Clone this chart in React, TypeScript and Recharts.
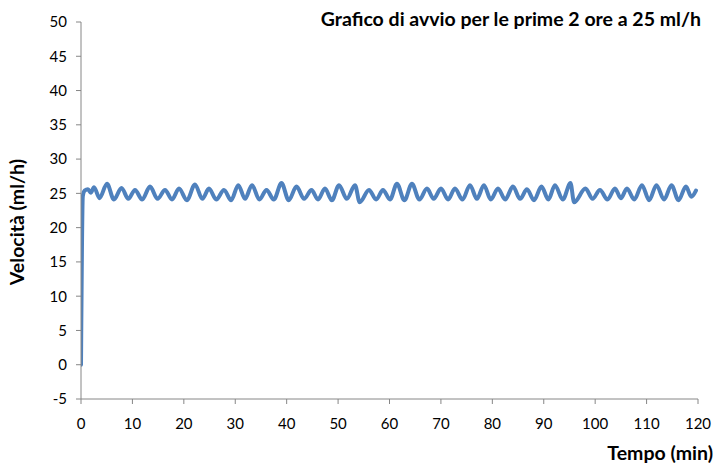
import React from "react";
import { LineChart, Line, XAxis, YAxis, Label } from "recharts";

const chartTitle = "Grafico di avvio per le prime 2 ore a 25 ml/h";
const xAxisTitle = "Tempo (min)";
const yAxisTitle = "Velocità (ml/h)";

const xTicks = [0, 10, 20, 30, 40, 50, 60, 70, 80, 90, 100, 110, 120];
const yTicks = [-5, 0, 5, 10, 15, 20, 25, 30, 35, 40, 45, 50];

const timeMin = [
  0, 0.35, 0.7, 1.36, 1.9, 2.53, 3.6, 5.06, 6.4, 7.88, 9.2, 10.5, 11.9, 13.42, 14.9,
  16.34, 17.7, 19.06, 20.6, 22.17, 23.6, 24.89, 26.3, 27.81, 29.2, 30.59, 31.9,
  33.26, 34.7, 36.08, 37.5, 38.99, 40.4, 41.91, 43.4, 44.83, 46.1, 47.45, 48.8,
  50.18, 51.7, 53.29, 54.2, 56.01, 57.4, 58.73, 60.1, 61.45, 62.9, 64.37, 65.8,
  67.29, 68.6, 70.01, 71.4, 72.73, 74.2, 75.65, 77.0, 78.37, 79.7, 81.1, 82.5,
  84.01, 85.4, 86.74, 88.1, 89.56, 90.9, 92.18, 93.7, 95.2, 95.9, 98.11, 99.5,
  100.93, 102.4, 103.85, 105.0, 106.18, 107.6, 109.1, 110.5, 111.92, 113.4,
  114.84, 116.2, 117.66, 118.7, 119.6,
];

const velocity = [
  0, 24.6, 25.4, 25.6, 25.1, 25.9, 24.3, 26.4, 24.1, 25.8, 24.2, 25.5, 24.1, 26.0, 24.2,
  25.5, 24.1, 25.7, 24.0, 26.3, 24.2, 25.7, 24.1, 25.5, 24.0, 26.2, 24.2,
  26.2, 24.1, 25.5, 24.1, 26.5, 24.0, 26.0, 24.2, 25.5, 24.1, 25.7, 24.0,
  26.2, 24.2, 26.2, 23.7, 25.5, 24.1, 25.5, 24.1, 26.4, 24.0, 26.4, 24.1,
  25.7, 24.2, 25.7, 24.1, 25.7, 24.1, 26.2, 24.2, 26.2, 24.1, 25.7, 24.1,
  26.0, 24.2, 25.6, 24.0, 26.0, 24.1, 26.2, 24.1, 26.5, 23.7, 25.7, 24.2,
  25.5, 24.1, 25.7, 24.3, 25.7, 24.1, 26.2, 24.0, 26.2, 24.1,
  26.2, 24.0, 26.0, 24.5, 25.4,
];

const data = timeMin.map((t, i) => ({ t, v: velocity[i] }));

const FONT = "Lato, 'Open Sans', sans-serif";
const AXIS_COLOR = "#868686";

export default function App() {
  return (
    <div style={{ position: "absolute", left: 0, top: 0, width: 717, height: 465, background: "#fff" }}>
      <div
        style={{
          position: "absolute",
          right: 16,
          top: 7,
          fontFamily: FONT,
          fontWeight: 700,
          fontSize: 19.5,
          color: "#000",
          whiteSpace: "nowrap",
          lineHeight: "24px",
        }}
      >
        {chartTitle}
      </div>
      <LineChart
        width={717}
        height={465}
        data={data}
        margin={{ top: 22, right: 19, bottom: 0, left: 0 }}
      >
        <XAxis
          dataKey="t"
          type="number"
          domain={[0, 120]}
          ticks={xTicks}
          allowDataOverflow
          height={66}
          tickSize={5}
          tickMargin={14}
          stroke={AXIS_COLOR}
          tick={{ fill: "#000", fontSize: 15, fontFamily: FONT }}
          tickLine={{ stroke: AXIS_COLOR }}
          axisLine={{ stroke: AXIS_COLOR }}
        >
          <Label
            content={() => (
              <text
                x={713}
                y={460}
                textAnchor="end"
                fontFamily={FONT}
                fontWeight={700}
                fontSize={19.5}
                fill="#000"
              >
                {xAxisTitle}
              </text>
            )}
          />
        </XAxis>
        <YAxis
          type="number"
          domain={[-5, 50]}
          ticks={yTicks}
          allowDataOverflow
          width={81}
          tickSize={5}
          tickMargin={9}
          stroke={AXIS_COLOR}
          tick={{ fill: "#000", fontSize: 15, fontFamily: FONT }}
          tickLine={{ stroke: AXIS_COLOR }}
          axisLine={{ stroke: AXIS_COLOR }}
        >
          <Label
            content={() => (
              <text
                x={24}
                y={222}
                transform="rotate(-90, 24, 222)"
                textAnchor="middle"
                fontFamily={FONT}
                fontWeight={700}
                fontSize={19.5}
                fill="#000"
              >
                {yAxisTitle}
              </text>
            )}
          />
        </YAxis>
        <Line
          type="monotone"
          dataKey="v"
          stroke="#4F81BD"
          strokeWidth={4}
          strokeLinejoin="round"
          strokeLinecap="round"
          dot={false}
          activeDot={false}
          isAnimationActive={false}
        />
      </LineChart>
    </div>
  );
}
